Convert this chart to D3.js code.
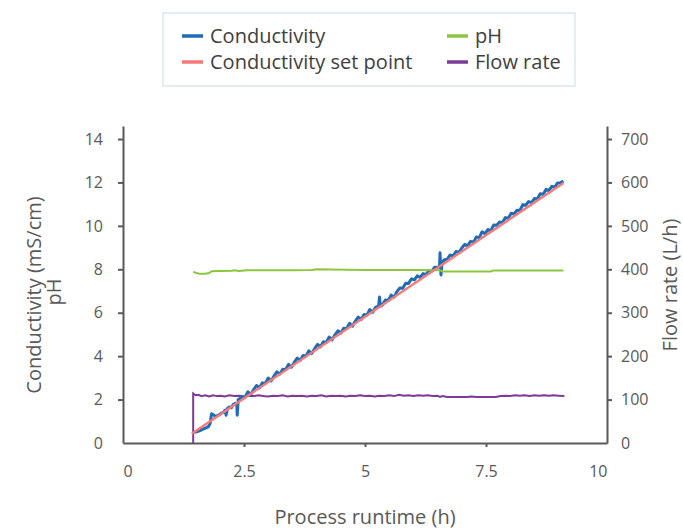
<!DOCTYPE html>
<html>
<head>
<meta charset="utf-8">
<script src="https://cdn.jsdelivr.net/npm/d3@7"></script>
<style>
  body { margin: 0; background: #fff; }
  text { font-family: "Open Sans", sans-serif; }
  .axis path, .axis line { stroke: #595959; stroke-width: 2; }
  .axis text { fill: #595959; font-size: 16px; }
  .title { fill: #595959; font-size: 20px; }
  .legend text { fill: #404040; font-size: 20px; }
</style>
</head>
<body>
<svg id="chart" width="683" height="529"></svg>
<script>
const xTicks = [0, 2.5, 5, 7.5, 10];
const leftTicks = [0, 2, 4, 6, 8, 10, 12, 14];
const rightTicks = [0, 100, 200, 300, 400, 500, 600, 700];

// [time (h), mS/cm]
const conductivity = [
  [1.47, 0.48], [1.52, 0.52], [1.58, 0.56], [1.64, 0.63], [1.7, 0.68], [1.76, 0.74],
  [1.8, 0.9], [1.83, 1.35], [1.87, 1.3], [1.91, 1.22], [1.95, 1.26], [2.0, 1.32],
  [2.04, 1.38], [2.08, 1.42], [2.11, 1.52], [2.13, 1.28], [2.16, 1.6], [2.2, 1.66],
  [2.24, 1.62], [2.28, 1.78], [2.32, 1.82], [2.35, 1.8], [2.36, 1.28], [2.38, 2.0],
  [2.42, 2.05], [2.46, 2.13], [2.52, 2.1], [2.58, 2.36], [2.64, 2.23], [2.7, 2.46],
  [2.76, 2.65], [2.82, 2.54], [2.88, 2.77], [2.94, 2.74], [3.0, 2.99], [3.06, 2.86],
  [3.12, 3.09], [3.18, 3.28], [3.24, 3.17], [3.3, 3.4], [3.36, 3.37], [3.42, 3.62],
  [3.48, 3.49], [3.54, 3.72], [3.6, 3.91], [3.66, 3.8], [3.72, 4.03], [3.78, 4.0],
  [3.84, 4.25], [3.9, 4.12], [3.96, 4.35], [4.02, 4.54], [4.08, 4.43], [4.14, 4.66],
  [4.2, 4.63], [4.26, 4.88], [4.32, 4.75], [4.38, 4.98], [4.44, 5.17], [4.5, 5.06],
  [4.56, 5.29], [4.62, 5.26], [4.68, 5.51], [4.74, 5.38], [4.8, 5.61], [4.86, 5.8],
  [4.92, 5.69], [4.98, 5.92], [5.04, 5.89], [5.1, 6.15], [5.16, 6.02], [5.22, 6.25],
  [5.28, 6.29], [5.3, 6.72], [5.32, 6.3], [5.36, 6.36], [5.42, 6.59], [5.48, 6.56],
  [5.54, 6.81], [5.6, 6.72], [5.66, 6.97], [5.72, 7.14], [5.78, 7.13], [5.84, 7.36],
  [5.9, 7.35], [5.96, 7.56], [6.02, 7.51], [6.08, 7.7], [6.14, 7.63], [6.2, 7.8],
  [6.26, 7.75], [6.32, 7.94], [6.38, 7.91], [6.44, 8.1], [6.5, 8.09], [6.54, 8.13],
  [6.55, 8.76], [6.57, 7.74], [6.59, 8.3], [6.64, 8.44], [6.7, 8.47], [6.76, 8.66],
  [6.82, 8.61], [6.88, 8.82], [6.94, 8.77], [7.0, 8.98], [7.06, 9.15], [7.12, 9.08],
  [7.18, 9.29], [7.24, 9.24], [7.3, 9.49], [7.36, 9.46], [7.42, 9.73], [7.48, 9.64],
  [7.54, 9.83], [7.6, 9.79], [7.66, 10.04], [7.72, 10.03], [7.78, 10.18], [7.84, 10.15],
  [7.9, 10.38], [7.96, 10.35], [8.02, 10.58], [8.08, 10.55], [8.14, 10.72], [8.2, 10.71],
  [8.26, 10.98], [8.32, 10.95], [8.38, 11.12], [8.44, 11.07], [8.5, 11.26], [8.56, 11.23],
  [8.62, 11.48], [8.68, 11.45], [8.74, 11.68], [8.8, 11.63], [8.86, 11.82], [8.92, 11.79],
  [8.98, 11.98], [9.04, 11.99], [9.1, 12.06]
];

const setPoint = [[1.42, 0.43], [9.1, 11.98]];

const ph = [
  [1.45, 7.88], [1.52, 7.83], [1.59, 7.79], [1.7, 7.8], [1.78, 7.83], [1.83, 7.91],
  [2.0, 7.92], [2.25, 7.93], [2.3, 7.96], [2.4, 7.92], [2.56, 7.96], [3.0, 7.96],
  [3.5, 7.96], [3.9, 7.97], [4.0, 8.0], [4.3, 7.99], [5.0, 7.97], [6.0, 7.97],
  [6.55, 7.96], [6.6, 7.9], [7.2, 7.9], [7.6, 7.9], [7.65, 7.95], [8.0, 7.95], [9.1, 7.95]
];

// [time (h), L/h]
const flowRate = [
  [1.45, 0], [1.45, 114], [1.5, 110], [1.56, 111], [1.62, 108], [1.7, 110], [1.78, 107],
  [1.86, 110], [1.94, 108], [2.02, 109], [2.1, 107], [2.2, 110], [2.3, 108], [2.4, 109],
  [2.5, 107], [2.6, 109], [2.7, 108], [2.8, 110], [2.9, 108], [3.0, 107], [3.1, 109],
  [3.2, 108], [3.3, 110], [3.4, 107], [3.5, 109], [3.6, 108], [3.7, 109], [3.8, 107],
  [3.9, 109], [4.0, 108], [4.1, 110], [4.2, 107], [4.3, 109], [4.4, 108], [4.5, 109],
  [4.6, 107], [4.7, 109], [4.8, 108], [4.9, 110], [5.0, 108], [5.1, 109], [5.2, 107],
  [5.3, 109], [5.4, 108], [5.5, 110], [5.6, 108], [5.7, 111], [5.8, 109], [5.9, 110],
  [6.0, 108], [6.1, 110], [6.2, 109], [6.3, 110], [6.4, 108], [6.5, 109], [6.55, 106],
  [6.6, 108], [6.7, 106], [6.9, 106], [7.1, 106], [7.2, 107], [7.3, 106], [7.5, 106],
  [7.7, 106], [7.8, 108], [7.9, 109], [8.0, 108], [8.1, 110], [8.2, 109], [8.3, 110],
  [8.4, 108], [8.5, 110], [8.6, 109], [8.7, 110], [8.8, 109], [8.9, 110], [9.0, 109],
  [9.12, 108]
];

const legendItems = [
  { name: "Conductivity", color: "#1f6cb6" },
  { name: "Conductivity set point", color: "#f47a7a" },
  { name: "pH", color: "#8cc63f" },
  { name: "Flow rate", color: "#7b3b96" }
];

const svg = d3.select("#chart");

const xScale = d3.scaleLinear().domain([0, 10]).range([123, 607]);
const yScale = d3.scaleLinear().domain([0, 14.6]).range([443, 126]);
const yRight = d3.scaleLinear().domain([0, 730]).range([443, 126]);

const line = d3.line().x((d) => xScale(d[0])).y((d) => yScale(d[1]));
const flowLine = d3.line().x((d) => xScale(d[0])).y((d) => yRight(d[1]));

// axes
const xAxis = svg
  .append("g")
  .attr("class", "axis")
  .attr("transform", `translate(0, ${yScale(0)})`)
  .call(
    d3.axisBottom(xScale).tickValues(xTicks).tickFormat((d) => d)
      .tickSize(4).tickPadding(19).tickSizeOuter(0)
  );
xAxis.selectAll(".tick text")
  .attr("text-anchor", (d, i) => (i === 0 ? "start" : i === xTicks.length - 1 ? "end" : "middle"));
xAxis.selectAll(".tick line").filter((d, i) => i === 0 || i === xTicks.length - 1).remove();

const leftAxis = svg
  .append("g")
  .attr("class", "axis")
  .attr("transform", `translate(${xScale(0)}, 0)`)
  .call(d3.axisLeft(yScale).tickValues(leftTicks).tickSize(5).tickPadding(15).tickSizeOuter(0));
leftAxis.selectAll(".tick line").filter((d) => d === 0).remove();

const rightAxis = svg
  .append("g")
  .attr("class", "axis")
  .attr("transform", `translate(${xScale(10)}, 0)`)
  .call(d3.axisRight(yRight).tickValues(rightTicks).tickSize(5).tickPadding(9).tickSizeOuter(0));
rightAxis.selectAll(".tick line").filter((d) => d === 0).remove();

// series
svg.append("path").datum(flowRate).attr("d", flowLine)
  .attr("fill", "none").attr("stroke", legendItems[3].color).attr("stroke-width", 2);
svg.append("path").datum(conductivity).attr("d", line)
  .attr("fill", "none").attr("stroke", legendItems[0].color).attr("stroke-width", 3)
  .attr("stroke-linejoin", "round");
svg.append("path").datum(ph).attr("d", line)
  .attr("fill", "none").attr("stroke", legendItems[2].color).attr("stroke-width", 2);
svg.append("path").datum(setPoint).attr("d", line)
  .attr("fill", "none").attr("stroke", legendItems[1].color).attr("stroke-width", 2.4);

// axis titles
svg.append("text").attr("class", "title")
  .attr("x", 365).attr("y", 524).attr("text-anchor", "middle")
  .text("Process runtime (h)");
svg.append("text").attr("class", "title")
  .attr("transform", "translate(41, 295) rotate(-90)").attr("text-anchor", "middle")
  .text("Conductivity (mS/cm)");
svg.append("text").attr("class", "title")
  .attr("transform", "translate(61, 292) rotate(-90)").attr("text-anchor", "middle")
  .text("pH");
svg.append("text").attr("class", "title")
  .attr("transform", "translate(677, 285) rotate(-90)").attr("text-anchor", "middle")
  .text("Flow rate (L/h)");

// legend
const legend = svg.append("g").attr("class", "legend");
legend.append("rect")
  .attr("x", 163).attr("y", 13).attr("width", 412).attr("height", 73)
  .attr("fill", "#fff").attr("stroke", "#dce5f1").attr("stroke-width", 1.5);

const item = legend.selectAll("g.item")
  .data(legendItems)
  .enter()
  .append("g")
  .attr("class", "item")
  .attr("transform", (d, i) => `translate(${i < 2 ? 182 : 447}, ${i % 2 === 0 ? 36 : 62})`);
item.append("line")
  .attr("x1", 0).attr("x2", 21)
  .attr("stroke", (d) => d.color).attr("stroke-width", 3.5);
item.append("text")
  .attr("x", 28).attr("dy", "0.35em")
  .text((d) => d.name);
</script>
</body>
</html>
